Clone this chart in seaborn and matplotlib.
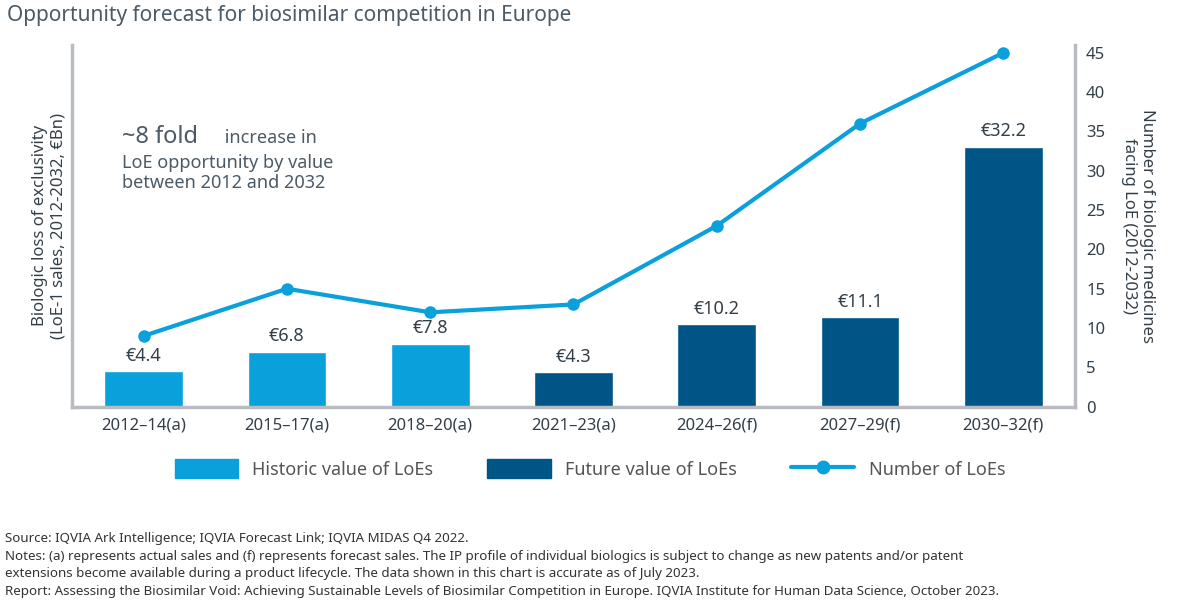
import matplotlib.pyplot as plt
import seaborn as sns
import pandas as pd
from matplotlib.patches import Patch
from matplotlib.lines import Line2D

periods = ["2012–14(a)", "2015–17(a)", "2018–20(a)", "2021–23(a)", "2024–26(f)", "2027–29(f)", "2030–32(f)"]
values = [4.4, 6.8, 7.8, 4.3, 10.2, 11.1, 32.2]
kind = ["Historic", "Historic", "Historic", "Future", "Future", "Future", "Future"]
loe_count = [9, 15, 12, 13, 23, 36, 45]

light = "#0aa0dc"
dark = "#005587"
grey = "#b8bcc0"
txt = "#333f48"

sns.set_theme(style="white")
plt.rcParams['font.family'] = ['Noto Sans', 'DejaVu Sans']

df = pd.DataFrame({"Period": periods, "Value": values, "Kind": kind, "LoEs": loe_count})

fig = plt.figure(figsize=(11.8, 6.07), dpi=100)
ax = fig.add_axes([0.061, 0.33, 0.85, 0.596])
sns.barplot(data=df, x="Period", y="Value", hue="Kind", palette={"Historic": light, "Future": dark},
            dodge=False, width=0.55, legend=False, ax=ax, saturation=1)
ax.set_ylim(0, 44.8)
ax.set_xlim(-0.5, 6.5)
ax.set_yticks([])
ax.set_xlabel("")
ax.set_ylabel("Biologic loss of exclusivity\n(LoE-1 sales, 2012-2032, €Bn)", fontsize=12, color=txt)
ax.tick_params(axis="x", labelsize=12, colors=txt, length=0, pad=8)
for i, v in enumerate(values):
    ax.text(i, v + 0.8, f"€{v}", ha="center", va="bottom", fontsize=13, color=txt)
for s in ["left", "bottom", "right"]:
    ax.spines[s].set_color(grey)
    ax.spines[s].set_linewidth(2.5)
ax.spines["top"].set_visible(False)

ax2 = ax.twinx()
sns.lineplot(x=list(range(len(periods))), y=loe_count, ax=ax2, color=light, lw=3, marker="o",
             markersize=9, markeredgewidth=0)
ax2.set_ylim(0, 46)
ax2.set_yticks(range(0, 46, 5))
ax2.tick_params(axis="y", labelsize=12, colors=txt, length=0, pad=8)
ax2.set_ylabel("Number of biologic medicines\nfacing LoE (2012-2032)", fontsize=12, color=txt, rotation=270, labelpad=36)
for s in ax2.spines.values():
    s.set_visible(False)

ax.text(0.05, 0.73, "~8 fold", transform=ax.transAxes, fontsize=17, fontweight="bold", color="#4b5a66")
ax.text(0.148, 0.73, " increase in", transform=ax.transAxes, fontsize=13, color="#4b5a66")
ax.text(0.05, 0.605, "LoE opportunity by value\nbetween 2012 and 2032", transform=ax.transAxes,
        fontsize=13, color="#4b5a66", linespacing=1.1)

handles = [Patch(color=light, label="Historic value of LoEs"),
           Patch(color=dark, label="Future value of LoEs"),
           Line2D([0], [0], color=light, lw=3, marker="o", markersize=9, label="Number of LoEs")]
fig.legend(handles=handles, loc="center", bbox_to_anchor=(0.5, 0.228), ncol=3, frameon=False,
           fontsize=13, handlelength=3.5, handleheight=1.3, columnspacing=3, labelcolor="#555")

fig.text(0.006, 0.965, "Opportunity forecast for biosimilar competition in Europe", fontsize=15,
         fontweight="bold", color="#4b5a66")
notes = ("Source: IQVIA Ark Intelligence; IQVIA Forecast Link; IQVIA MIDAS Q4 2022.\n"
         "Notes: (a) represents actual sales and (f) represents forecast sales. The IP profile of individual biologics is subject to change as new patents and/or patent\n"
         "extensions become available during a product lifecycle. The data shown in this chart is accurate as of July 2023.\n"
         "Report: Assessing the Biosimilar Void: Achieving Sustainable Levels of Biosimilar Competition in Europe. IQVIA Institute for Human Data Science, October 2023.")
fig.text(0.004, 0.015, notes, fontsize=9.6, color="#333", va="bottom", linespacing=1.45)

fig.savefig("out.png", dpi=100)
